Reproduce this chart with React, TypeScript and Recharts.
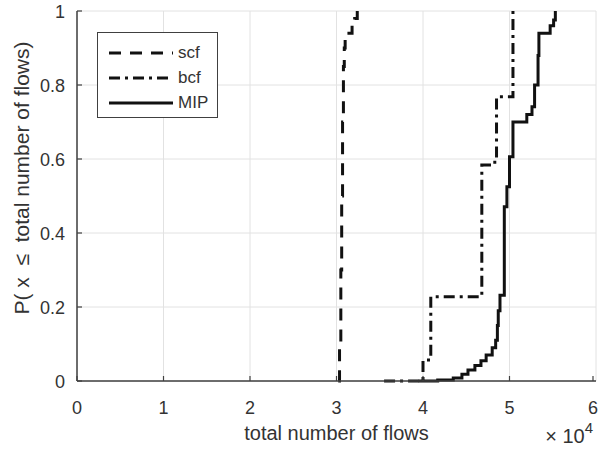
import React from "react";
import { LineChart, Line, XAxis, YAxis, CartesianGrid } from "recharts";

// ─── Data ─────────────────────────────────────────────────────────────────────

const X_TICKS = [0, 10000, 20000, 30000, 40000, 50000, 60000];
const Y_TICKS = [0, 0.2, 0.4, 0.6, 0.8, 1];

const SCF_X = [30200, 30350, 30500, 30600, 30700, 30800, 30900, 31000, 31800, 32100, 32400];
const SCF_F = [0, 0.1, 0.3, 0.5, 0.7, 0.85, 0.9, 0.94, 0.96, 0.98, 1];

const BCF_X = [35500, 40000, 40900, 46800, 48300, 48500, 50400];
const BCF_F = [0, 0.057, 0.228, 0.584, 0.6, 0.768, 1];

const MIP_X = [
  39500, 41700, 43500, 44500, 45200, 46000, 46700, 47300, 48000, 48400, 48600, 48700,
  48900, 49400, 49700, 50000, 50400, 52000, 52600, 52900, 53300, 53400, 54700, 55100, 55300,
];
const MIP_F = [
  0, 0.003, 0.008, 0.018, 0.03, 0.042, 0.055, 0.07, 0.09, 0.11, 0.15, 0.19,
  0.232, 0.471, 0.525, 0.606, 0.7, 0.72, 0.741, 0.8, 0.88, 0.94, 0.96, 0.976, 1,
];

const SERIES = [
  { name: "scf", xs: SCF_X, fs: SCF_F, dash: "12 9" },
  { name: "bcf", xs: BCF_X, fs: BCF_F, dash: "11 5 3 5" },
  { name: "MIP", xs: MIP_X, fs: MIP_F, dash: undefined as string | undefined },
];

// ─── Styles ───────────────────────────────────────────────────────────────────

const FONT = '"Liberation Sans", Arial, Helvetica, sans-serif';
const AXIS = "#404040";
const TEXT = "#333333";
const LINE = "#111111";

// ─── Ticks (MATLAB style, pointing inward) ────────────────────────────────────

// eslint-disable-next-line @typescript-eslint/no-explicit-any
function BottomTick(props: any) {
  const { x, y, payload } = props;
  return (
    <g>
      <line x1={x} y1={y} x2={x} y2={y - 5} stroke={AXIS} strokeWidth={1.2} />
      <text x={x} y={y + 33} textAnchor="middle" fill={TEXT} fontSize={18} fontFamily={FONT}>
        {payload.value / 10000}
      </text>
    </g>
  );
}

// eslint-disable-next-line @typescript-eslint/no-explicit-any
function TopTick(props: any) {
  const { x, y } = props;
  return <line x1={x} y1={y} x2={x} y2={y + 5} stroke={AXIS} strokeWidth={1.2} />;
}

// eslint-disable-next-line @typescript-eslint/no-explicit-any
function LeftTick(props: any) {
  const { x, y, payload } = props;
  return (
    <g>
      <line x1={x} y1={y} x2={x + 5} y2={y} stroke={AXIS} strokeWidth={1.2} />
      <text x={x - 12} y={y + 6.5} textAnchor="end" fill={TEXT} fontSize={18} fontFamily={FONT}>
        {Math.round(payload.value * 10) / 10}
      </text>
    </g>
  );
}

// eslint-disable-next-line @typescript-eslint/no-explicit-any
function RightTick(props: any) {
  const { x, y } = props;
  return <line x1={x} y1={y} x2={x - 5} y2={y} stroke={AXIS} strokeWidth={1.2} />;
}

// ─── Axis labels ──────────────────────────────────────────────────────────────

// eslint-disable-next-line @typescript-eslint/no-explicit-any
function XLabel(props: any) {
  const { viewBox } = props;
  const cx = viewBox.x + viewBox.width / 2;
  const right = viewBox.x + viewBox.width;
  return (
    <g>
      <text x={cx} y={viewBox.y + 59} textAnchor="middle" fill={TEXT} fontSize={20} fontFamily={FONT}>
        total number of flows
      </text>
      <text x={right - 3} y={viewBox.y + 62} textAnchor="end" fill={TEXT} fontSize={20} fontFamily={FONT}>
        × 10
        <tspan fontSize={15} dy={-10}>4</tspan>
      </text>
    </g>
  );
}

function YLabel() {
  // centre of the rotated label, page pixels
  const x = 29;
  const cy = 178;
  return (
    <text
      x={x}
      y={cy}
      transform={`rotate(-90 ${x} ${cy})`}
      textAnchor="middle"
      fill={TEXT}
      fontSize={21}
      fontFamily={FONT}
    >
      {"P( x \u00a0≤\u00a0 total number of flows)"}
    </text>
  );
}

// ─── Legend (drawn over the chart, MATLAB "northwest" box) ────────────────────

function LegendBox() {
  return (
    <div
      style={{
        position: "absolute",
        left: 97,
        top: 32,
        width: 121,
        height: 86,
        border: `1.5px solid ${AXIS}`,
        background: "#fff",
        boxSizing: "border-box",
        padding: "7px 0 0 11px",
        fontFamily: FONT,
        fontSize: 17,
        color: TEXT,
      }}
    >
      {SERIES.map((s) => (
        <div key={s.name} style={{ display: "flex", alignItems: "center", height: 25 }}>
          <svg width={64} height={10} style={{ display: "block" }}>
            <line x1={0} y1={5} x2={64} y2={5} stroke={LINE} strokeWidth={3} strokeDasharray={s.dash} />
          </svg>
          <span style={{ marginLeft: 5 }}>{s.name}</span>
        </div>
      ))}
    </div>
  );
}

// ─── Component ────────────────────────────────────────────────────────────────

export default function App() {
  return (
    <div style={{ position: "absolute", left: 0, top: 0, width: 613, height: 449, background: "#fff" }}>
      <LineChart width={613} height={449} margin={{ top: 11, right: 17, left: 0, bottom: 0 }}>
        <CartesianGrid stroke="#e2e2e2" strokeWidth={1} />
        <XAxis
          type="number"
          dataKey="x"
          domain={[0, 60000]}
          ticks={X_TICKS}
          allowDataOverflow
          height={68}
          tickSize={0}
          tickMargin={0}
          tickLine={false}
          axisLine={{ stroke: AXIS, strokeWidth: 1.5 }}
          tick={<BottomTick />}
          label={<XLabel />}
        />
        <XAxis
          xAxisId="top"
          orientation="top"
          type="number"
          dataKey="x"
          domain={[0, 60000]}
          ticks={X_TICKS}
          height={0}
          tickSize={0}
          tickMargin={0}
          tickLine={false}
          axisLine={{ stroke: AXIS, strokeWidth: 1.5 }}
          tick={<TopTick />}
        />
        <YAxis
          type="number"
          domain={[0, 1]}
          ticks={Y_TICKS}
          width={77}
          tickSize={0}
          tickMargin={0}
          tickLine={false}
          axisLine={{ stroke: AXIS, strokeWidth: 1.5 }}
          tick={<LeftTick />}
          label={<YLabel />}
        />
        <YAxis
          yAxisId="right"
          orientation="right"
          type="number"
          domain={[0, 1]}
          ticks={Y_TICKS}
          width={0}
          tickSize={0}
          tickMargin={0}
          tickLine={false}
          axisLine={{ stroke: AXIS, strokeWidth: 1.5 }}
          tick={<RightTick />}
        />
        {SERIES.map((s) => (
          <Line
            key={s.name}
            name={s.name}
            data={s.xs.map((x, i) => ({ x, f: s.fs[i] }))}
            dataKey="f"
            type="stepAfter"
            stroke={LINE}
            strokeWidth={3}
            strokeDasharray={s.dash}
            dot={false}
            activeDot={false}
            isAnimationActive={false}
          />
        ))}
      </LineChart>
      <LegendBox />
    </div>
  );
}
